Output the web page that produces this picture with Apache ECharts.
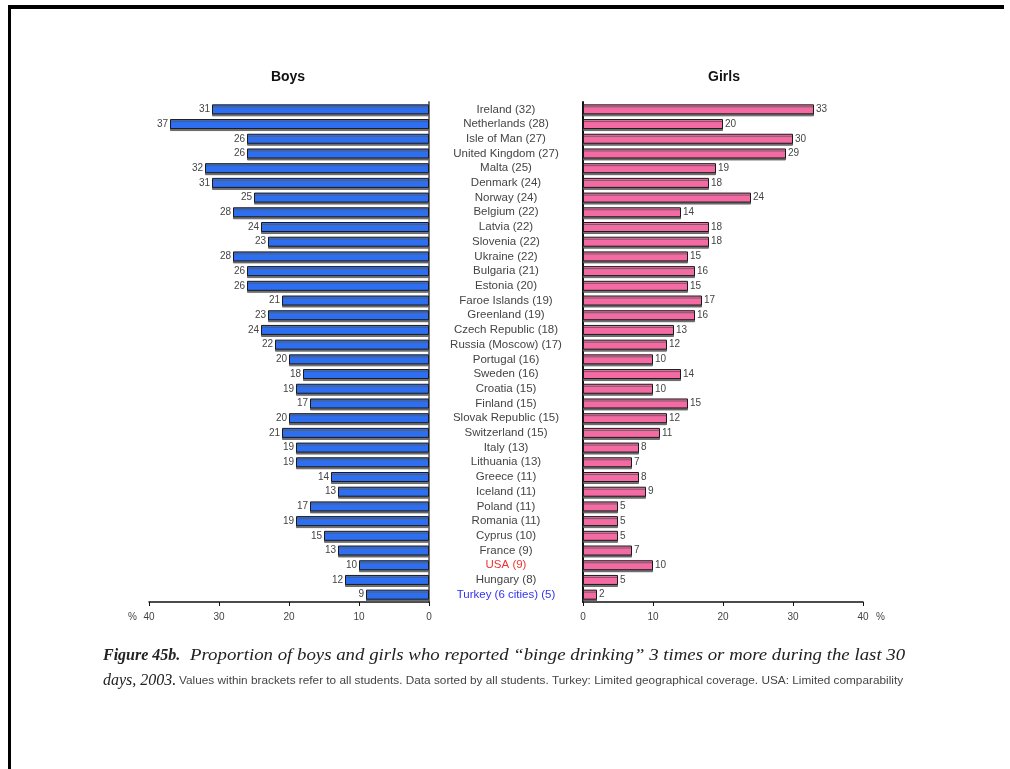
<!DOCTYPE html>
<html><head><meta charset="utf-8">
<script src="https://cdn.jsdelivr.net/npm/echarts@6/dist/echarts.min.js"></script>
<style>html,body{margin:0;padding:0;background:#fff}#c{width:1010px;height:769px}</style>
</head><body><div id="c"></div>
<script>
const countries = ["Ireland","Netherlands","Isle of Man","United Kingdom","Malta","Denmark","Norway","Belgium","Latvia","Slovenia","Ukraine","Bulgaria","Estonia","Faroe Islands","Greenland","Czech Republic","Russia (Moscow)","Portugal","Sweden","Croatia","Finland","Slovak Republic","Switzerland","Italy","Lithuania","Greece","Iceland","Poland","Romania","Cyprus","France","USA","Hungary","Turkey (6 cities)"];
const allStudents = [32,28,27,27,25,24,24,22,22,22,22,21,20,19,19,18,17,16,16,15,15,15,15,13,13,11,11,11,11,10,9,9,8,5];
const boys = [31,37,26,26,32,31,25,28,24,23,28,26,26,21,23,24,22,20,18,19,17,20,21,19,19,14,13,17,19,15,13,10,12,9];
const girls = [33,20,30,29,19,18,24,14,18,18,15,16,15,17,16,13,12,10,14,10,15,12,11,8,7,8,9,5,5,5,7,10,5,2];
const xTicks = [0,10,20,30,40];

const categories = countries.map((c,i)=>c+' ('+allStudents[i]+')');

const chart = echarts.init(document.getElementById('c'));
const SANS = 'Liberation Sans, Arial, sans-serif';
const SERIF = 'Liberation Serif, Times New Roman, serif';
const lblFont = {fontFamily:SANS, fontSize:10, color:'#444'};
chart.setOption({
  animation:false,
  backgroundColor:'#fff',
  grid:[
    {left:149, top:102, width:280, height:500},
    {left:583, top:102, width:280, height:500}
  ],
  xAxis:[
    {gridIndex:0, type:'value', inverse:true, min:0, max:40, interval:10,
     splitLine:{show:false},
     axisLine:{show:true, lineStyle:{color:'#111', width:1.5}},
     axisTick:{show:true, length:4, lineStyle:{color:'#111'}},
     axisLabel:{...lblFont, margin:10, formatter:v=>xTicks.includes(v)?String(v):''}},
    {gridIndex:1, type:'value', min:0, max:40, interval:10,
     splitLine:{show:false},
     axisLine:{show:true, lineStyle:{color:'#111', width:1.5}},
     axisTick:{show:true, length:4, lineStyle:{color:'#111'}},
     axisLabel:{...lblFont, margin:10, formatter:v=>xTicks.includes(v)?String(v):''}}
  ],
  yAxis:[
    {gridIndex:0, type:'category', data:categories, inverse:true, position:'right',
     axisLine:{show:true, lineStyle:{color:'#777', width:2}},
     axisTick:{show:false}, axisLabel:{show:false}},
    {gridIndex:1, type:'category', data:categories, inverse:true, position:'left',
     axisLine:{show:true, lineStyle:{color:'#111', width:2}},
     axisTick:{show:false},
     axisLabel:{show:true, interval:0, hideOverlap:false, align:'center', margin:77, fontFamily:SANS, fontSize:11.5, color:'#444',
       formatter:v=>{
         if(v.indexOf('USA')===0) return '{r|'+v+'}';
         if(v.indexOf('Turkey')===0) return '{b|'+v+'}';
         return v;
       },
       rich:{r:{color:'#ee3333', fontSize:11.5, fontFamily:SANS},
             b:{color:'#3333ee', fontSize:11.5, fontFamily:SANS}}}}
  ],
  series:[
    {type:'bar', xAxisIndex:0, yAxisIndex:0, data:boys, barWidth:10,
     itemStyle:{color:'#2d6ff0', borderColor:'#1a1a1a', borderWidth:1,
       shadowColor:'rgba(90,90,90,0.85)', shadowOffsetY:2, shadowOffsetX:0, shadowBlur:0},
     label:{show:true, position:'left', distance:2, ...lblFont}},
    {type:'bar', xAxisIndex:1, yAxisIndex:1, data:girls, barWidth:10,
     itemStyle:{color:'#f46aa2', borderColor:'#1a1a1a', borderWidth:1,
       shadowColor:'rgba(90,90,90,0.85)', shadowOffsetY:2, shadowOffsetX:0, shadowBlur:0},
     label:{show:true, position:'right', distance:2, ...lblFont}}
  ],
  graphic:[
    {type:'rect', shape:{x:9, y:5, width:995, height:4}, style:{fill:'#000'}},
    {type:'rect', shape:{x:8, y:5, width:3, height:770}, style:{fill:'#000'}},
    {type:'text', x:288, y:77, style:{text:'Boys', fontFamily:SANS, fontWeight:'bold', fontSize:14, fill:'#111', align:'center', verticalAlign:'middle'}},
    {type:'text', x:724, y:77, style:{text:'Girls', fontFamily:SANS, fontWeight:'bold', fontSize:14, fill:'#111', align:'center', verticalAlign:'middle'}},
    {type:'text', x:128, y:617, style:{text:'%', fontFamily:SANS, fontSize:10, fill:'#444', verticalAlign:'middle'}},
    {type:'text', x:876, y:617, style:{text:'%', fontFamily:SANS, fontSize:10, fill:'#444', verticalAlign:'middle'}},
    {type:'text', x:103, y:656, style:{text:'Figure 45b.', fontFamily:SERIF, fontStyle:'italic', fontWeight:'bold', fontSize:16, fill:'#222', verticalAlign:'middle'}},
    {type:'text', x:190, y:656, scaleX:1.107, style:{text:'Proportion of boys and girls who reported \u201cbinge drinking\u201d 3 times or more during the last 30', fontFamily:SERIF, fontStyle:'italic', fontSize:17, fill:'#222', verticalAlign:'middle'}},
    {type:'text', x:103, y:681, style:{text:'days, 2003.', fontFamily:SERIF, fontStyle:'italic', fontSize:16, fill:'#222', verticalAlign:'middle'}},
    {type:'text', x:179, y:681, scaleX:1.18, style:{text:'Values within brackets refer to all students. Data sorted by all students. Turkey: Limited geographical coverage. USA: Limited comparability', fontFamily:SANS, fontSize:10, fill:'#444', verticalAlign:'middle'}}
  ]
});
</script></body></html>
